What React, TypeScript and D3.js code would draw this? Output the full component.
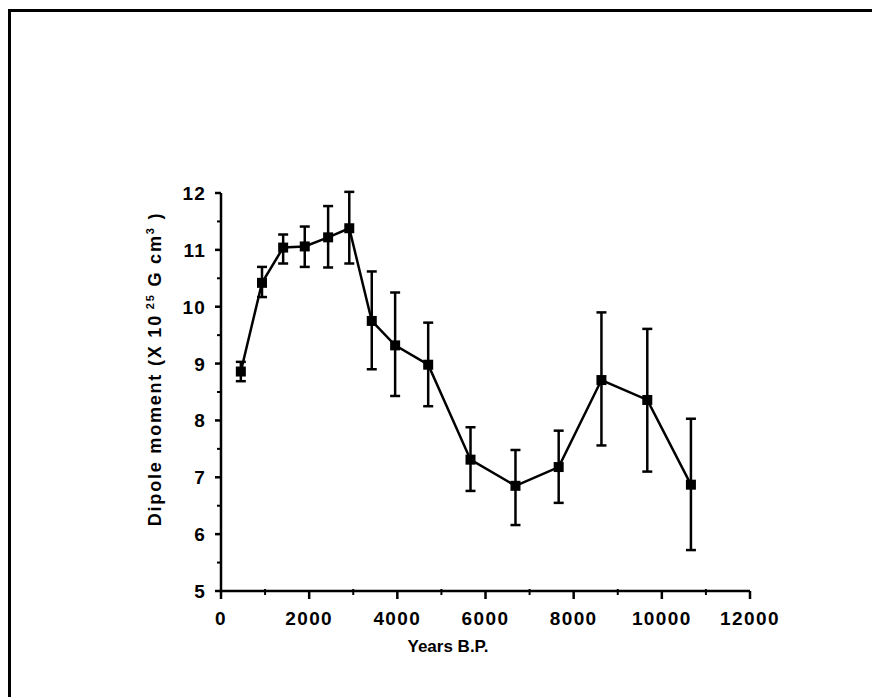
import React from "react";
import * as d3 from "d3";

const years = [450, 930, 1410, 1900, 2430, 2910, 3420, 3950, 4700, 5660, 6680, 7660, 8630, 9670, 10660];
const dipole = [8.86, 10.42, 11.04, 11.06, 11.22, 11.38, 9.75, 9.32, 8.98, 7.31, 6.85, 7.18, 8.71, 8.36, 6.87];
const errUpper = [9.03, 10.7, 11.27, 11.41, 11.77, 12.02, 10.62, 10.25, 9.72, 7.88, 7.48, 7.82, 9.9, 9.61, 8.03];
const errLower = [8.69, 10.17, 10.76, 10.7, 10.69, 10.76, 8.9, 8.43, 8.25, 6.76, 6.16, 6.55, 7.56, 7.1, 5.72];
const xTicks = [0, 2000, 4000, 6000, 8000, 10000, 12000];
const xMinor = [1000, 3000, 5000, 7000, 9000, 11000];
const yTicks = [5, 6, 7, 8, 9, 10, 11, 12];
const yMinor = [5.5, 6.5, 7.5, 8.5, 9.5, 10.5, 11.5];

const W = 872;
const H = 697;
const FONT = "'Liberation Sans', Arial, sans-serif";

export default function App() {
  const x = d3.scaleLinear().domain([0, 12000]).range([221, 750]);
  const y = d3.scaleLinear().domain([5, 12]).range([591, 193]);
  const pts = years.map((yr, i) => ({ yr, v: dipole[i], hi: errUpper[i], lo: errLower[i] }));
  const line = d3
    .line<{ yr: number; v: number }>()
    .x((d) => x(d.yr))
    .y((d) => y(d.v));
  const ms = 10;
  const cap = 5;

  return (
    <svg
      width={W}
      height={H}
      style={{ position: "absolute", left: 0, top: 0, background: "#fff" }}
      fontFamily={FONT}
    >
      <rect x={0} y={0} width={W} height={H} fill="#fff" />
      {/* frame */}
      <line x1={9.5} y1={10.5} x2={W} y2={10.5} stroke="#000" strokeWidth={3} />
      <line x1={9.5} y1={9} x2={9.5} y2={H} stroke="#000" strokeWidth={3} />

      {/* axes */}
      <line x1={x(0)} y1={y(5)} x2={x(12000)} y2={y(5)} stroke="#000" strokeWidth={2.5} />
      <line x1={x(0)} y1={y(5) + 1} x2={x(0)} y2={y(12)} stroke="#000" strokeWidth={2.5} />

      {xTicks.map((t) => (
        <g key={"xt" + t}>
          <line x1={x(t)} x2={x(t)} y1={y(5)} y2={y(5) + 8} stroke="#000" strokeWidth={2.5} />
          <text
            x={x(t)}
            y={625}
            textAnchor="middle"
            fontSize={19}
            fontWeight="bold"
            letterSpacing={1.4}
            fill="#000"
          >
            {t}
          </text>
        </g>
      ))}
      {xMinor.map((t) => (
        <line key={"xm" + t} x1={x(t)} x2={x(t)} y1={y(5) - 2} y2={y(5) + 4} stroke="#000" strokeWidth={2} />
      ))}
      {yTicks.map((t) => (
        <g key={"yt" + t}>
          <line x1={x(0) - 6} x2={x(0)} y1={y(t)} y2={y(t)} stroke="#000" strokeWidth={2.5} />
          <text
            x={206}
            y={y(t) + 7}
            textAnchor="end"
            fontSize={19}
            fontWeight="bold"
            letterSpacing={1.2}
            fill="#000"
          >
            {t}
          </text>
        </g>
      ))}
      {yMinor.map((t) => (
        <line key={"ym" + t} x1={x(0) - 4} x2={x(0)} y1={y(t)} y2={y(t)} stroke="#000" strokeWidth={2} />
      ))}

      {/* axis titles */}
      <text x={448} y={652} textAnchor="middle" fontSize={17} fontWeight="bold" fill="#000">
        Years B.P.
      </text>
      <text
        transform="translate(161,369) rotate(-90)"
        textAnchor="middle"
        fontSize={18}
        fontWeight="bold"
        letterSpacing={1.8}
        fill="#000"
      >
        Dipole moment (X 10
        <tspan fontSize={11} dy={-7}> 25</tspan>
        <tspan dy={7}> G cm</tspan>
        <tspan fontSize={11} dy={-7}>3</tspan>
        <tspan dy={7}> )</tspan>
      </text>

      {/* error bars */}
      {pts.map((d, i) => (
        <g key={"e" + i} stroke="#000" strokeWidth={2.5}>
          <line x1={x(d.yr)} x2={x(d.yr)} y1={y(d.hi)} y2={y(d.lo)} />
          <line x1={x(d.yr) - cap} x2={x(d.yr) + cap} y1={y(d.hi)} y2={y(d.hi)} />
          <line x1={x(d.yr) - cap} x2={x(d.yr) + cap} y1={y(d.lo)} y2={y(d.lo)} />
        </g>
      ))}

      {/* data line */}
      <path d={line(pts) || ""} fill="none" stroke="#000" strokeWidth={2.5} />
      {pts.map((d, i) => (
        <rect key={"m" + i} x={x(d.yr) - ms / 2} y={y(d.v) - ms / 2} width={ms} height={ms} fill="#000" />
      ))}
    </svg>
  );
}
